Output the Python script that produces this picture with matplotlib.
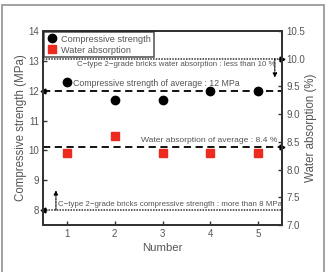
import matplotlib
matplotlib.use("Agg")
import matplotlib.pyplot as plt
from matplotlib.patches import Rectangle

# data
numbers = [1, 2, 3, 4, 5]
strength = [12.3, 11.7, 11.7, 12.0, 12.0]      # MPa
absorption = [8.3, 8.6, 8.3, 8.3, 8.3]         # %

strength_avg = 12.0
absorption_avg = 8.4
strength_limit = 8.0
absorption_limit = 10.0

txt = "#555555"
plt.rcParams["font.family"] = ["Liberation Sans", "DejaVu Sans"]

fig = plt.figure(figsize=(3.26, 2.72), dpi=100)
fig.patches.append(Rectangle((2 / 326, -0.05), 322 / 326, 1 - 5 / 272 + 0.05,
                             transform=fig.transFigure, fill=False,
                             edgecolor="#9a9a9a", linewidth=1.3))

ax = fig.add_axes([0.132, 0.173, 0.733, 0.713])
ax2 = ax.twinx()

ax.set_xlim(0.5, 5.5)
ax.set_ylim(7.5, 14)
ax2.set_ylim(7.0, 10.5)
ax.set_xticks(numbers)
ax.set_yticks([8, 9, 10, 11, 12, 13, 14])
ax2.set_yticks([7.0, 7.5, 8.0, 8.5, 9.0, 9.5, 10.0, 10.5])
ax2.set_yticklabels(["7.0", "7.5", "8.0", "8.5", "9.0", "9.5", "10.0", "10.5"])

for a in (ax, ax2):
    for s in a.spines.values():
        s.set_color("#333333")
        s.set_linewidth(1.4)
    a.tick_params(direction="in", length=3, width=1, color="#333333",
                  labelsize=7, labelcolor=txt, pad=3)

# reference lines
ax.plot([0.5, 5.5], [strength_avg, strength_avg], color="black", ls=(0, (4, 2.5)), lw=1.3)
ax.plot([0.5], [strength_avg], marker="<", color="black", ms=3.5, clip_on=False)
ax2.plot([0.5, 5.5], [absorption_avg, absorption_avg], color="black", ls=(0, (4, 2.5)), lw=1.3)
ax2.plot([5.5], [absorption_avg], marker=">", color="black", ms=3.5, clip_on=False)
ax2.plot([0.5, 5.5], [absorption_limit, absorption_limit], color="#333333", ls=(0, (1, 0.8)), lw=1.1)
ax2.plot([5.5], [absorption_limit], marker=">", color="black", ms=3.5, clip_on=False)
ax.plot([0.5, 5.5], [strength_limit, strength_limit], color="#333333", ls=(0, (1, 0.8)), lw=1.1)
ax.plot([0.5], [strength_limit], marker="<", color="black", ms=3.5, clip_on=False)

ax2.annotate("", xy=(5.35, 9.66), xytext=(5.35, absorption_limit),
             arrowprops=dict(arrowstyle="-|>", color="black", lw=0.8, ls=(0, (2, 1)),
                             mutation_scale=6, shrinkA=0, shrinkB=0))
ax.annotate("", xy=(0.77, 8.66), xytext=(0.77, strength_limit),
            arrowprops=dict(arrowstyle="-|>", color="black", lw=0.8, ls=(0, (2, 1)),
                            mutation_scale=6, shrinkA=0, shrinkB=0))

# points
h1, = ax.plot(numbers, strength, "o", color="black", ms=6, ls="none",
              label="Compressive strength", zorder=5)
h2, = ax2.plot(numbers, absorption, "s", color="#ec2a1e", ms=5.8, ls="none",
               label="Water absorption", zorder=5)

# annotations
ax2.text(1.21, 9.89, "C\u2212type 2\u2212grade bricks water absorption : less than 10 %",
         fontsize=5.7, color=txt, va="center", ha="left")
ax.text(1.13, 12.23, "Compressive strength of average : 12 MPa",
        fontsize=6.3, color=txt, va="center", ha="left")
ax2.text(5.41, 8.52, "Water absorption of average : 8.4 %",
         fontsize=6.1, color=txt, va="center", ha="right")
ax.text(0.81, 8.19, "C\u2212type 2\u2212grade bricks compressive strength : more than 8 MPa",
        fontsize=5.7, color=txt, va="center", ha="left")

leg = ax2.legend(handles=[h1, h2], loc="upper left", fontsize=6.6, frameon=True,
                 fancybox=False, borderaxespad=0.15, handletextpad=0.4,
                 borderpad=0.25, labelspacing=0.2, handlelength=1.2)
leg.get_frame().set_edgecolor("#222222")
leg.get_frame().set_linewidth(1.1)
for t in leg.get_texts():
    t.set_color(txt)

ax.set_xlabel("Number", fontsize=8.2, color=txt, labelpad=3)
ax.set_ylabel("Compressive strength (MPa)", fontsize=8.3, color=txt, labelpad=0.5)
ax2.set_ylabel("Water absorption (%)", fontsize=8.3, color=txt, labelpad=0)

fig.savefig("out.png", dpi=100)
